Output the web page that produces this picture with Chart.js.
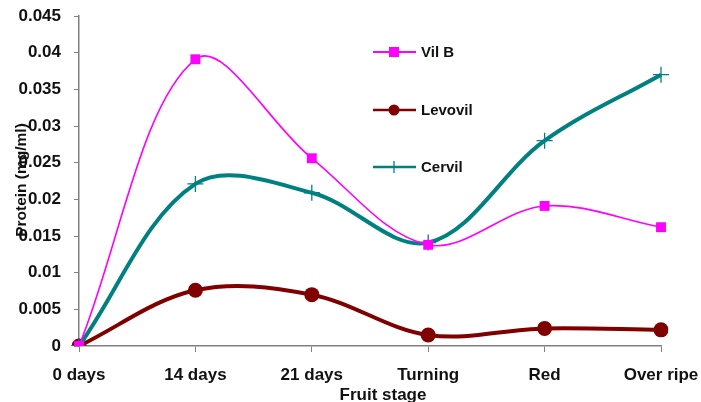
<!DOCTYPE html>
<html><head><meta charset="utf-8">
<script src="https://cdn.jsdelivr.net/npm/chart.js@4"></script>
<style>html,body{margin:0;padding:0;background:#fff}#w{width:701px;height:402px}</style>
</head><body><div id="w"><canvas id="c" width="701" height="402"></canvas></div>
<script>
const categories = ['0 days','14 days','21 days','Turning','Red','Over ripe'];
const vilB = [0, 0.0391, 0.0256, 0.0138, 0.0191, 0.0162];
const levovil = [0, 0.0076, 0.0070, 0.0015, 0.0024, 0.0022];
const cervil = [0, 0.0221, 0.0209, 0.0141, 0.0280, 0.0370];
const yTicks = [0,0.005,0.01,0.015,0.02,0.025,0.03,0.035,0.04,0.045];
const yTickLabels = ['0','0.005','0.01','0.015','0.02','0.025','0.03','0.035','0.04','0.045'];
const xTitle = 'Fruit stage';
const yTitle = 'Protein (mg/ml)';

const FONT = '"Liberation Sans", Arial, sans-serif';

const overlay = {
  id:'overlay',
  afterDraw(chart){
    const ctx = chart.ctx;
    ctx.save();
    const ys = [52,110,167];
    chart.data.datasets.forEach((ds,i)=>{
      const y = ys[i];
      ctx.strokeStyle = ds.borderColor;
      ctx.lineWidth = ds.legendLineWidth;
      ctx.beginPath(); ctx.moveTo(373,y); ctx.lineTo(416,y); ctx.stroke();
      ctx.fillStyle = ds.pointBackgroundColor; ctx.strokeStyle = ds.pointBorderColor;
      ctx.beginPath();
      if(ds.pointStyle==='rect'){ctx.fillRect(389,y-5,10,10);}
      else if(ds.pointStyle==='circle'){ctx.arc(394,y,5.5,0,Math.PI*2);ctx.fill();}
      else {ctx.lineWidth=1.3;ctx.moveTo(394,y-6);ctx.lineTo(394,y+6);ctx.stroke();}
      ctx.fillStyle = '#111';
      ctx.font = 'bold 15px '+FONT;
      ctx.textBaseline = 'middle'; ctx.textAlign='left';
      ctx.fillText(ds.label, 421, y+1);
    });
    ctx.fillStyle='#111';
    ctx.font = 'bold 17px '+FONT;
    ctx.textAlign='center'; ctx.textBaseline='alphabetic';
    ctx.fillText(xTitle, 383, 400);
    ctx.font = 'bold 15.5px '+FONT;
    ctx.textBaseline='middle';
    ctx.translate(22,180); ctx.rotate(-Math.PI/2);
    ctx.fillText(yTitle, 0, 0);
    ctx.restore();
  }
};

new Chart(document.getElementById('c'), {
  type:'line',
  data:{
    labels: categories,
    datasets:[
      {label:'Vil B', data:vilB, borderColor:'#FF00FF', backgroundColor:'#FF00FF', borderWidth:1.6, legendLineWidth:1.8,
       pointStyle:'rect', pointRadius:7, pointBackgroundColor:'#FF00FF', pointBorderColor:'#FF00FF', pointBorderWidth:0, tension:0.35, order:1},
      {label:'Levovil', data:levovil, borderColor:'#800000', backgroundColor:'#800000', borderWidth:4, legendLineWidth:2.5,
       pointStyle:'circle', pointRadius:7.5, pointBackgroundColor:'#800000', pointBorderColor:'#800000', pointBorderWidth:0, tension:0.35, order:3},
      {label:'Cervil', data:cervil, borderColor:'#008080', backgroundColor:'#008080', borderWidth:4, legendLineWidth:2.5,
       pointStyle:'cross', pointRadius:8, pointBackgroundColor:'#008080', pointBorderColor:'#008080', pointBorderWidth:1.3, tension:0.35, order:2}
    ]
  },
  options:{
    responsive:false, animation:false, devicePixelRatio:1,
    layout:{padding:{left:0,right:40,top:16,bottom:0}},
    plugins:{legend:{display:false}, tooltip:{enabled:false}},
    scales:{
      x:{
        offset:false,
        grid:{display:true, drawOnChartArea:false, drawTicks:true, tickLength:6, color:'#808080', tickColor:'#808080'},
        border:{display:true,color:'#808080',width:1.5},
        ticks:{color:'#111', font:{family:FONT,size:17,weight:'bold'}, padding:13, maxRotation:0, autoSkip:false},
        afterFit(s){s.height=56; s.paddingLeft=0; s.paddingRight=0;}
      },
      y:{
        min:0,max:0.045,
        afterBuildTicks(s){s.ticks = yTicks.map(v=>({value:v}));},
        grid:{display:true, drawOnChartArea:false, drawTicks:true, tickLength:5, color:'#808080', tickColor:'#808080'},
        border:{display:true,color:'#808080',width:1.5},
        ticks:{color:'#111', font:{family:FONT,size:17,weight:'bold'}, padding:13,
          callback:(v,i)=>yTickLabels[yTicks.indexOf(v)] ?? ''},
        afterFit(s){s.width=79; s.paddingTop=0; s.paddingBottom=0;}
      }
    }
  },
  plugins:[overlay]
});
</script></body></html>
